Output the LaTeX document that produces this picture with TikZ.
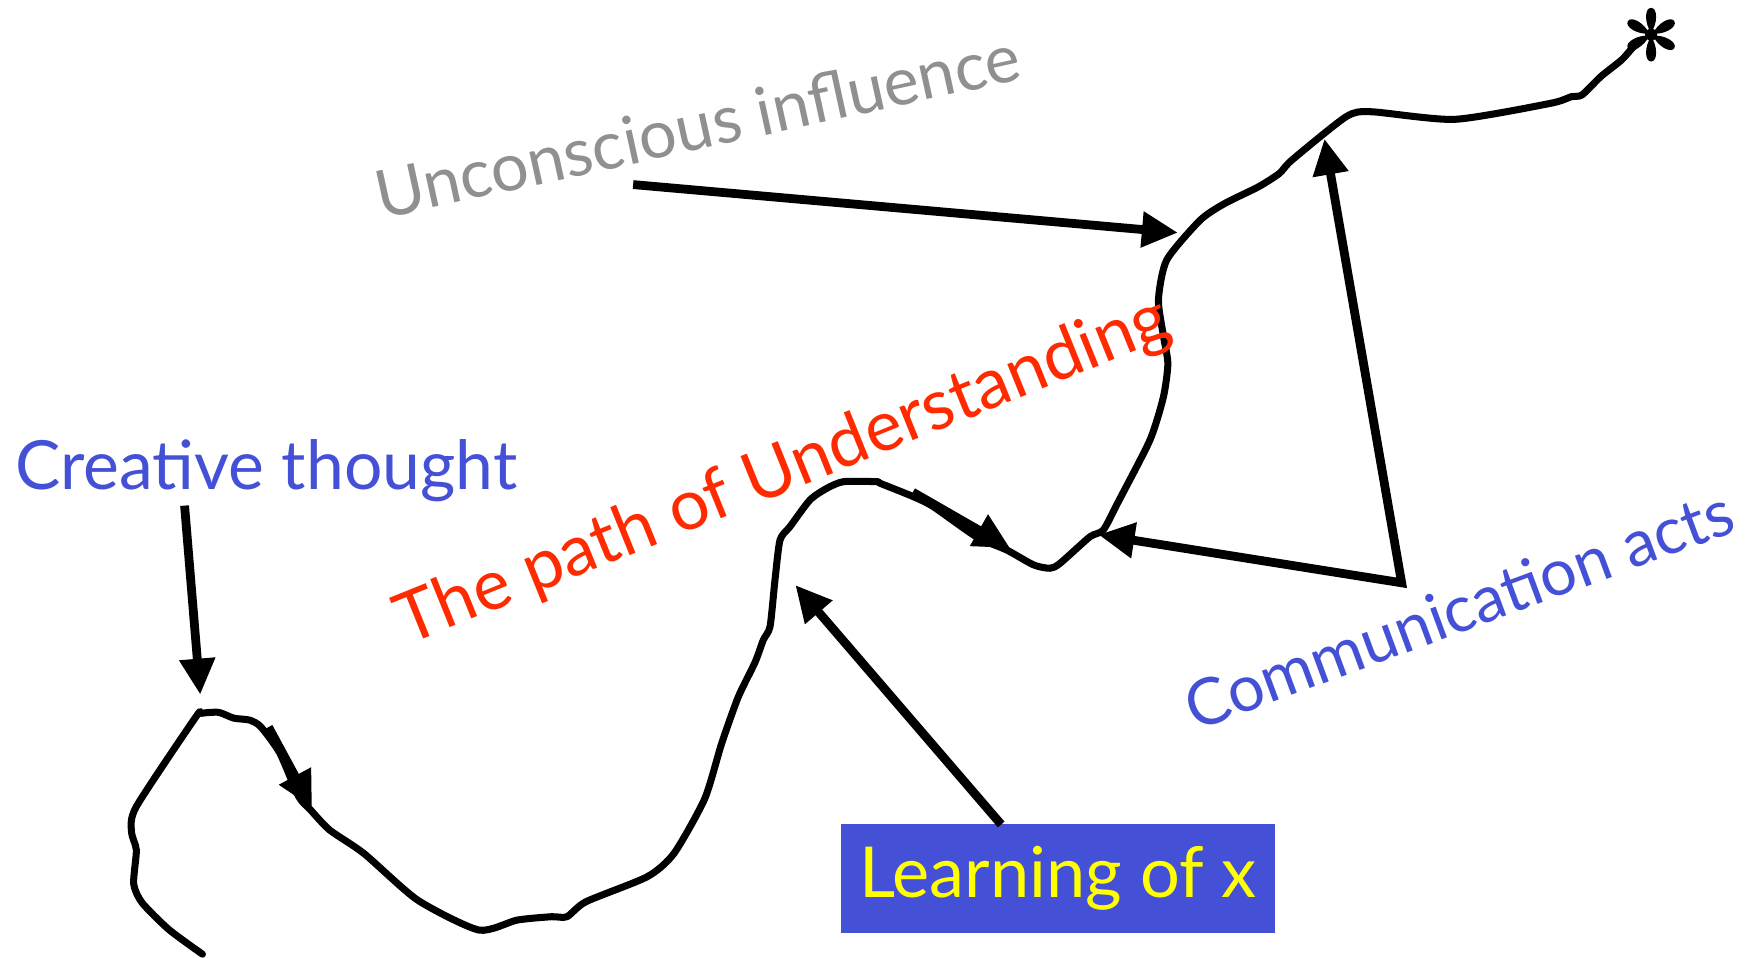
\documentclass[tikz,border=0pt]{standalone}
\usepackage{fontspec}
\setmainfont{Lato}
\usetikzlibrary{arrows.meta}
\definecolor{txtblue}{RGB}{68,80,214}
\definecolor{txtred}{RGB}{255,42,0}
\definecolor{txtgray}{RGB}{144,144,144}
\definecolor{txtyellow}{RGB}{255,255,0}
\newcommand{\sz}[1]{\fontsize{#1}{#1}\selectfont}

\begin{document}
\begin{tikzpicture}[x=0.011186cm,y=-0.011186cm,>={Triangle[length=3.6mm,width=3.4mm]},
  lbl/.style={inner sep=0pt,anchor=base west},
  arr/.style={->,line width=2.5pt},
  road/.style={line width=2pt,line join=round,line cap=round}]
\useasboundingbox (0,0) rectangle (1568,856);
% the path
\draw[road] plot[smooth,tension=0.4] coordinates {
  (181,853) (151,831) (127,807) (119.5,790) (121.9,760) (117.5,743.5) (121.9,721)
  (175,641) (180,637.7) (195.4,636.8) (209,642) (223,643.7) (233,649.6) (250,673)
  (267,712) (277.6,724) (294.7,742) (325.4,763) (373.3,804.6) (428,831.4) (462.3,822.5)
  (493,819.5) (506.8,819.5) (524,806) (578.7,783.7) (602.6,762.8) (630,714) (645,665)
  (660,623) (675,592) (682.4,572) (688.4,560) (692.8,518.5) (697.3,482.7) (706.2,470.8)
  (724,447) (739,436.6) (754,430.6) (783.7,430.6) (786.7,432) (816.5,444) (834.4,453)
  (873,480) (900,491.7) (924,505) (938.7,508) (947.6,503.6) (974.4,479.8) (986.3,473.8)
  (1000,448) (1028,393.4) (1040,355) (1044,325) (1040,300) (1035.6,268) (1043,232.4)
  (1073,196.7) (1095,181.8) (1125,167) (1143.7,155) (1155,143) (1203.4,104.3)
  (1225.8,99.9) (1300.4,106.7) (1386,92.4) (1404.8,86.4) (1414.2,84.9) (1431,68.5)
  (1449.6,53.6) (1459,43.2) (1464,39)};
% the star at its end
\coordinate (star) at (1476,31);
\foreach \a in {90,30,-30,-90,-150,150}
  \fill[shift={(star)},rotate=\a] (2,0) .. controls (10,-6) and (24,-6) .. (24,0)
    .. controls (24,6) and (10,6) .. (2,0);
\fill (star) circle[radius=5.4];
% labels
\node[lbl,txtblue,font=\sz{19.3}] (creative) at (13,438) {Creative thought};
\node[lbl,txtgray,font=\sz{19},rotate=12.3] (uncon) at (340,196) {Unconscious influence};
\node[lbl,txtred,font=\sz{20},rotate=22] (road) at (364,577) {The path of Understanding};
\node[lbl,txtblue,font=\sz{18.4},rotate=20.3] (comm) at (1068,654) {Communication acts};
\node[fill=txtblue,text=txtyellow,font=\sz{20},
  minimum width=4.34cm,minimum height=1.085cm,inner sep=0pt] (learn) at (945.8,785.2) {Learning of x};
% arrows
\coordinate (c0) at (165,452);  \coordinate (c1) at (179,621);
\coordinate (p0) at (240,650);  \coordinate (p1) at (279,722);
\coordinate (q0) at (816,440);  \coordinate (q1) at (903,490);
\coordinate (l0) at (895,737);  \coordinate (l1) at (711,523);
\coordinate (u0) at (566,165);  \coordinate (u1) at (1053,208);
\coordinate (k0) at (982,478);  \coordinate (kc) at (1253,521); \coordinate (k1) at (1184,124);
\draw[arr] (c0)--(c1);
\draw[arr] (p0)--(p1);
\draw[arr] (q0)--(q1);
\draw[arr] (l0)--(l1);
\draw[arr] (u0)--(u1);
\draw[<->,line width=2.5pt] (k0)--(kc)--(k1);
\end{tikzpicture}
\end{document}
